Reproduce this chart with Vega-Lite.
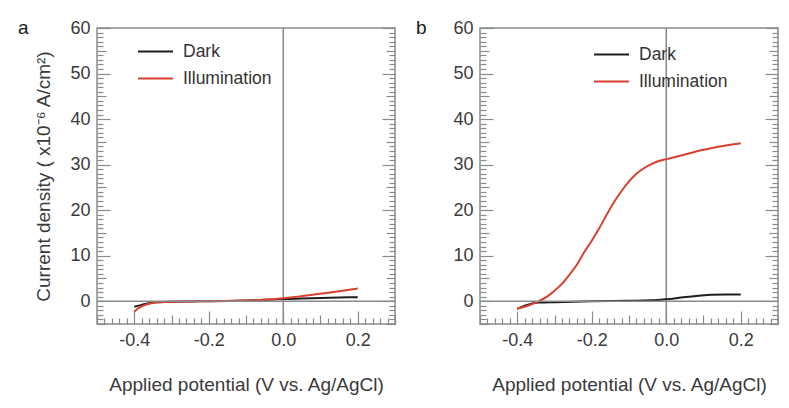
{
  "$schema": "https://vega.github.io/schema/vega-lite/v6.json",
  "padding": {"left": 17, "top": 18, "right": 5, "bottom": 5},
  "background": "white",
  "config": {
    "font": "Liberation Sans",
    "view": {"stroke": "#8a8a8a", "strokeWidth": 1.5},
    "axis": {"domain": false, "grid": false, "labelFont": "Liberation Sans", "labelFontSize": 18, "labelColor": "#3a3a3a", "titleFont": "Liberation Sans", "titleFontSize": 19, "titleFontWeight": "normal", "titleColor": "#3a3a3a", "tickColor": "#8a8a8a", "tickWidth": 1.2},
    "legend": {"labelFont": "Liberation Sans", "labelFontSize": 17.5, "labelColor": "#333333", "rowPadding": -13}
  },
  "datasets": {
    "a": [
      {"x": -0.4, "y": -1.2, "series": "Dark"},
      {"x": -0.38, "y": -0.8, "series": "Dark"},
      {"x": -0.36, "y": -0.45, "series": "Dark"},
      {"x": -0.34, "y": -0.25, "series": "Dark"},
      {"x": -0.32, "y": -0.15, "series": "Dark"},
      {"x": -0.3, "y": -0.1, "series": "Dark"},
      {"x": -0.25, "y": -0.05, "series": "Dark"},
      {"x": -0.2, "y": 0.0, "series": "Dark"},
      {"x": -0.15, "y": 0.05, "series": "Dark"},
      {"x": -0.1, "y": 0.15, "series": "Dark"},
      {"x": -0.05, "y": 0.3, "series": "Dark"},
      {"x": 0.0, "y": 0.5, "series": "Dark"},
      {"x": 0.05, "y": 0.6, "series": "Dark"},
      {"x": 0.1, "y": 0.7, "series": "Dark"},
      {"x": 0.15, "y": 0.8, "series": "Dark"},
      {"x": 0.2, "y": 0.9, "series": "Dark"},
      {"x": -0.4, "y": -2.3, "series": "Illumination"},
      {"x": -0.39, "y": -1.6, "series": "Illumination"},
      {"x": -0.38, "y": -1.1, "series": "Illumination"},
      {"x": -0.36, "y": -0.55, "series": "Illumination"},
      {"x": -0.34, "y": -0.25, "series": "Illumination"},
      {"x": -0.32, "y": -0.15, "series": "Illumination"},
      {"x": -0.3, "y": -0.1, "series": "Illumination"},
      {"x": -0.25, "y": -0.05, "series": "Illumination"},
      {"x": -0.2, "y": 0.0, "series": "Illumination"},
      {"x": -0.15, "y": 0.05, "series": "Illumination"},
      {"x": -0.1, "y": 0.15, "series": "Illumination"},
      {"x": -0.05, "y": 0.3, "series": "Illumination"},
      {"x": 0.0, "y": 0.65, "series": "Illumination"},
      {"x": 0.05, "y": 1.1, "series": "Illumination"},
      {"x": 0.1, "y": 1.65, "series": "Illumination"},
      {"x": 0.15, "y": 2.2, "series": "Illumination"},
      {"x": 0.2, "y": 2.8, "series": "Illumination"}
    ],
    "b": [
      {"x": -0.4, "y": -1.7, "series": "Dark"},
      {"x": -0.38, "y": -1.0, "series": "Dark"},
      {"x": -0.36, "y": -0.5, "series": "Dark"},
      {"x": -0.34, "y": -0.3, "series": "Dark"},
      {"x": -0.3, "y": -0.2, "series": "Dark"},
      {"x": -0.2, "y": 0.0, "series": "Dark"},
      {"x": -0.1, "y": 0.1, "series": "Dark"},
      {"x": -0.04, "y": 0.2, "series": "Dark"},
      {"x": 0.0, "y": 0.45, "series": "Dark"},
      {"x": 0.04, "y": 0.8, "series": "Dark"},
      {"x": 0.08, "y": 1.15, "series": "Dark"},
      {"x": 0.12, "y": 1.4, "series": "Dark"},
      {"x": 0.16, "y": 1.5, "series": "Dark"},
      {"x": 0.2, "y": 1.5, "series": "Dark"},
      {"x": -0.4, "y": -1.6, "series": "Illumination"},
      {"x": -0.38, "y": -1.2, "series": "Illumination"},
      {"x": -0.36, "y": -0.6, "series": "Illumination"},
      {"x": -0.34, "y": 0.1, "series": "Illumination"},
      {"x": -0.32, "y": 1.0, "series": "Illumination"},
      {"x": -0.3, "y": 2.3, "series": "Illumination"},
      {"x": -0.28, "y": 3.8, "series": "Illumination"},
      {"x": -0.26, "y": 5.8, "series": "Illumination"},
      {"x": -0.24, "y": 8.0, "series": "Illumination"},
      {"x": -0.22, "y": 10.8, "series": "Illumination"},
      {"x": -0.2, "y": 13.3, "series": "Illumination"},
      {"x": -0.18, "y": 16.0, "series": "Illumination"},
      {"x": -0.16, "y": 19.0, "series": "Illumination"},
      {"x": -0.14, "y": 21.8, "series": "Illumination"},
      {"x": -0.12, "y": 24.2, "series": "Illumination"},
      {"x": -0.1, "y": 26.3, "series": "Illumination"},
      {"x": -0.08, "y": 28.0, "series": "Illumination"},
      {"x": -0.06, "y": 29.2, "series": "Illumination"},
      {"x": -0.04, "y": 30.1, "series": "Illumination"},
      {"x": -0.02, "y": 30.8, "series": "Illumination"},
      {"x": 0.0, "y": 31.2, "series": "Illumination"},
      {"x": 0.04, "y": 32.0, "series": "Illumination"},
      {"x": 0.08, "y": 32.9, "series": "Illumination"},
      {"x": 0.12, "y": 33.6, "series": "Illumination"},
      {"x": 0.16, "y": 34.2, "series": "Illumination"},
      {"x": 0.2, "y": 34.7, "series": "Illumination"}
    ]
  },
  "hconcat": [
    {
      "width": 298,
      "height": 296,
      "title": {"text": "a", "anchor": "start", "frame": "group", "dx": -79, "dy": 23, "fontSize": 19, "fontWeight": "normal", "color": "#1a1a1a", "font": "Liberation Sans"},
      "resolve": {"axis": {"y": "independent"}},
      "layer": [
        {
          "data": {"values": [{}]},
          "mark": {"type": "rule", "color": "#8a8a8a", "strokeWidth": 1.5},
          "encoding": {"x": {"datum": 0, "type": "quantitative"}}
        },
        {
          "data": {"name": "a"},
          "mark": {"type": "line", "interpolate": "monotone", "strokeWidth": 2},
          "encoding": {
            "x": {"field": "x", "type": "quantitative", "scale": {"domain": [-0.5, 0.3], "nice": false, "zero": false},
                  "axis": {"title": "Applied potential (V vs. Ag/AgCl)", "tickCount": 200,
                           "values": [-0.5,-0.48,-0.46,-0.44,-0.42,-0.4,-0.38,-0.36,-0.34,-0.32,-0.3,-0.28,-0.26,-0.24,-0.22,-0.2,-0.18,-0.16,-0.14,-0.12,-0.1,-0.08,-0.06,-0.04,-0.02,0,0.02,0.04,0.06,0.08,0.1,0.12,0.14,0.16,0.18,0.2,0.22,0.24,0.26,0.28,0.3],
                           "labelExpr": "(abs(datum.value/0.2 - round(datum.value/0.2)) < 0.001 && datum.value > -0.45 && datum.value < 0.25) ? replace(format(datum.value, '.1f'), '\u2212', '-') : ''",
                           "labelFlush": false, "labelOverlap": false,
                           "tickSize": {"condition": [{"test": "abs(datum.value/0.2 - round(datum.value/0.2)) < 0.001", "value": -13}, {"test": "abs(datum.value/0.1 - round(datum.value/0.1)) < 0.001", "value": -9}], "value": -6},
                           "labelPadding": 20, "titlePadding": 19}},
            "y": {"field": "y", "type": "quantitative", "scale": {"domain": [-5, 60], "nice": false, "zero": false},
                  "axis": {"title": "Current density ( x10⁻⁶ A/cm²)", "tickCount": 200, "orient": "left",
                           "values": [-5,-4,-3,-2,-1,0,1,2,3,4,5,6,7,8,9,10,11,12,13,14,15,16,17,18,19,20,21,22,23,24,25,26,27,28,29,30,31,32,33,34,35,36,37,38,39,40,41,42,43,44,45,46,47,48,49,50,51,52,53,54,55,56,57,58,59,60],
                           "labelExpr": "datum.value % 10 === 0 ? format(datum.value, 'd') : ''",
                           "labelFlush": false, "labelOverlap": false,
                           "tickSize": {"condition": [{"test": "datum.value % 10 === 0", "value": -13}, {"test": "datum.value % 5 === 0", "value": -9}], "value": -6},
                           "labelPadding": 20, "titlePadding": 16}},
            "color": {"field": "series", "type": "nominal", "scale": {"domain": ["Dark", "Illumination"], "range": ["#1e1e1e", "#d8412f"]},
                      "legend": {"orient": "none", "legendX": 40, "legendY": 5, "title": null, "symbolType": "stroke", "symbolSize": 1225, "symbolStrokeWidth": 2, "labelOffset": 9}}
          }
        },
        {
          "data": {"values": [{}]},
          "mark": {"type": "rule", "color": "#8a8a8a", "strokeWidth": 1.5},
          "encoding": {"y": {"datum": 0, "type": "quantitative",
                  "axis": {"title": null, "labels": false, "orient": "right", "tickCount": 200,
                           "values": [-5,-4,-3,-2,-1,0,1,2,3,4,5,6,7,8,9,10,11,12,13,14,15,16,17,18,19,20,21,22,23,24,25,26,27,28,29,30,31,32,33,34,35,36,37,38,39,40,41,42,43,44,45,46,47,48,49,50,51,52,53,54,55,56,57,58,59,60],
                           "tickSize": {"condition": [{"test": "datum.value % 10 === 0", "value": -13}, {"test": "datum.value % 5 === 0", "value": -9}], "value": -6}}}}
        }
      ]
    },
    {
      "width": 298,
      "height": 296,
      "title": {"text": "b", "anchor": "start", "frame": "group", "dx": -64, "dy": 23, "fontSize": 19, "fontWeight": "normal", "color": "#1a1a1a", "font": "Liberation Sans"},
      "resolve": {"axis": {"y": "independent"}},
      "layer": [
        {
          "data": {"values": [{}]},
          "mark": {"type": "rule", "color": "#8a8a8a", "strokeWidth": 1.5},
          "encoding": {"x": {"datum": 0, "type": "quantitative"}}
        },
        {
          "data": {"name": "b"},
          "mark": {"type": "line", "interpolate": "monotone", "strokeWidth": 2},
          "encoding": {
            "x": {"field": "x", "type": "quantitative", "scale": {"domain": [-0.5, 0.3], "nice": false, "zero": false},
                  "axis": {"title": "Applied potential (V vs. Ag/AgCl)", "tickCount": 200,
                           "values": [-0.5,-0.48,-0.46,-0.44,-0.42,-0.4,-0.38,-0.36,-0.34,-0.32,-0.3,-0.28,-0.26,-0.24,-0.22,-0.2,-0.18,-0.16,-0.14,-0.12,-0.1,-0.08,-0.06,-0.04,-0.02,0,0.02,0.04,0.06,0.08,0.1,0.12,0.14,0.16,0.18,0.2,0.22,0.24,0.26,0.28,0.3],
                           "labelExpr": "(abs(datum.value/0.2 - round(datum.value/0.2)) < 0.001 && datum.value > -0.45 && datum.value < 0.25) ? replace(format(datum.value, '.1f'), '\u2212', '-') : ''",
                           "labelFlush": false, "labelOverlap": false,
                           "tickSize": {"condition": [{"test": "abs(datum.value/0.2 - round(datum.value/0.2)) < 0.001", "value": -13}, {"test": "abs(datum.value/0.1 - round(datum.value/0.1)) < 0.001", "value": -9}], "value": -6},
                           "labelPadding": 20, "titlePadding": 19}},
            "y": {"field": "y", "type": "quantitative", "scale": {"domain": [-5, 60], "nice": false, "zero": false},
                  "axis": {"title": null, "tickCount": 200, "orient": "left",
                           "values": [-5,-4,-3,-2,-1,0,1,2,3,4,5,6,7,8,9,10,11,12,13,14,15,16,17,18,19,20,21,22,23,24,25,26,27,28,29,30,31,32,33,34,35,36,37,38,39,40,41,42,43,44,45,46,47,48,49,50,51,52,53,54,55,56,57,58,59,60],
                           "labelExpr": "datum.value % 10 === 0 ? format(datum.value, 'd') : ''",
                           "labelFlush": false, "labelOverlap": false,
                           "tickSize": {"condition": [{"test": "datum.value % 10 === 0", "value": -13}, {"test": "datum.value % 5 === 0", "value": -9}], "value": -6},
                           "labelPadding": 20}},
            "color": {"field": "series", "type": "nominal", "scale": {"domain": ["Dark", "Illumination"], "range": ["#1e1e1e", "#d8412f"]},
                      "legend": {"orient": "none", "legendX": 113, "legendY": 8, "title": null, "symbolType": "stroke", "symbolSize": 1225, "symbolStrokeWidth": 2, "labelOffset": 9}}
          }
        },
        {
          "data": {"values": [{}]},
          "mark": {"type": "rule", "color": "#8a8a8a", "strokeWidth": 1.5},
          "encoding": {"y": {"datum": 0, "type": "quantitative",
                  "axis": {"title": null, "labels": false, "orient": "right", "tickCount": 200,
                           "values": [-5,-4,-3,-2,-1,0,1,2,3,4,5,6,7,8,9,10,11,12,13,14,15,16,17,18,19,20,21,22,23,24,25,26,27,28,29,30,31,32,33,34,35,36,37,38,39,40,41,42,43,44,45,46,47,48,49,50,51,52,53,54,55,56,57,58,59,60],
                           "tickSize": {"condition": [{"test": "datum.value % 10 === 0", "value": -13}, {"test": "datum.value % 5 === 0", "value": -9}], "value": -6}}}}
        }
      ]
    }
  ],
  "spacing": 85,
  "bounds": "flush",
  "resolve": {"scale": {"color": "independent"}, "legend": {"color": "independent"}}
}
